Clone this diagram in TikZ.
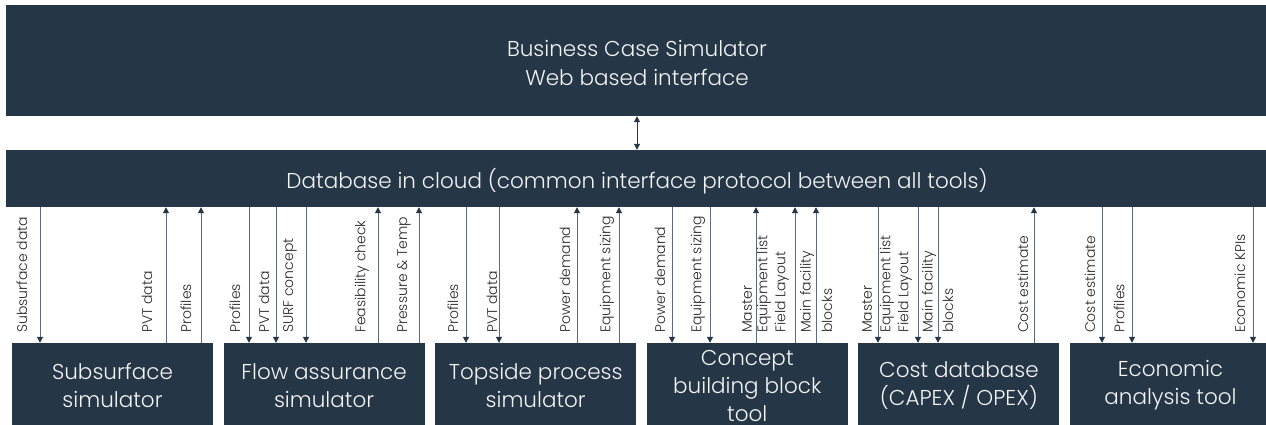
\documentclass[tikz,border=0pt]{standalone}
\usepackage{fontspec}
\setmainfont{Poppins Light}
\usetikzlibrary{arrows.meta}
\definecolor{panel}{RGB}{37,54,70}
\definecolor{wire}{RGB}{92,108,124}
\definecolor{ink}{RGB}{242,244,246}
\definecolor{labelink}{RGB}{40,40,40}

\begin{document}
\begin{tikzpicture}[x=1pt,y=-1pt,
  panel/.style={fill=panel, draw=none, text=ink, inner sep=0pt, align=center},
  paneltext/.style={text=ink, inner sep=0pt, align=center},
  toolbox/.style={panel, minimum width=201pt, minimum height=85pt,
    font=\fontsize{21.5}{28}\selectfont},
  linkdn/.style={draw=wire, line width=1pt, -{Triangle[length=6pt,width=6pt,color=panel]}},
  linkup/.style={draw=wire, line width=1pt, {Triangle[length=6pt,width=6pt,color=panel]}-},
  linkboth/.style={draw=panel, line width=1pt,
    {Triangle[length=6pt,width=6pt]}-{Triangle[length=6pt,width=6pt]}},
  lab/.style={rotate=90, anchor=west, inner sep=0pt, text=labelink,
    font=\fontsize{14}{16}\selectfont}
]
\useasboundingbox (0,0) rectangle (1266,424);

% interface and shared database
\node[panel, minimum width=1266pt, minimum height=111pt] (web) at (639,60.5) {};
\node[paneltext, font=\fontsize{21.5}{29}\selectfont] (webtxt) at (637,63)
  {Business Case Simulator\\Web based interface};
\node[panel, minimum width=1266pt, minimum height=57pt] (db) at (639,178.5) {};
\node[paneltext, font=\fontsize{21.5}{26}\selectfont] (dbtxt) at (637,181)
  {Database in cloud (common interface protocol between all tools)};
\draw[linkboth] (web.south -| 637,0) -- (db.north -| 637,0);

% simulation and analysis tools
\node[toolbox] (sub)  at (112.5,385.5) {Subsurface\\simulator};
\node[toolbox] (flow) at (324.1,385.5) {Flow assurance\\simulator};
\node[toolbox] (top)  at (535.7,385.5) {Topside process\\simulator};
\node[toolbox] (cbb)  at (747.3,385.5) {Concept\\building block\\tool};
\node[toolbox] (cost) at (958.9,385.5) {Cost database\\(CAPEX / OPEX)};
\node[toolbox] (eco)  at (1170.5,385.5) {Economic\\analysis tool};

% data exchange with the database
\foreach \b/\x/\s in {
  sub/40/linkdn, sub/166/linkup, sub/201/linkup,
  flow/249/linkdn, flow/276/linkdn, flow/306/linkdn, flow/378/linkup, flow/419/linkup,
  top/466/linkdn, top/499/linkdn, top/577/linkup, top/619/linkup,
  cbb/672/linkdn, cbb/710/linkdn, cbb/756/linkup, cbb/795/linkup, cbb/816/linkup,
  cost/878/linkdn, cost/918/linkdn, cost/938/linkdn, cost/1034/linkup,
  eco/1102/linkdn, eco/1132/linkdn, eco/1253/linkdn}{
  \coordinate (p) at (\x,0);
  \draw[\s] (db.south -| p) -- (\b.north -| p);
}

% exchanged quantities
\foreach \x/\t [count=\i] in {
  22/Subsurface data, 147/PVT data, 186/Profiles,
  235/Profiles, 264/PVT data, 290/SURF concept, 362/Feasibility check, 404/Pressure \& Temp,
  453/Profiles, 492/PVT data, 565/Power demand, 607/Equipment sizing,
  660/Power demand, 698/Equipment sizing,
  747/Master, 764/Equipment list, 782/Field Layout, 807/Main facility, 827/blocks,
  867/Master, 887/Equipment list, 905/Field Layout, 929/Main facility, 948/blocks,
  1023/Cost estimate,
  1090/Cost estimate, 1119/Profiles, 1240/Economic KPIs}{
  \node[lab] (lab\i) at (\x,333) {\t};
}
\end{tikzpicture}
\end{document}
